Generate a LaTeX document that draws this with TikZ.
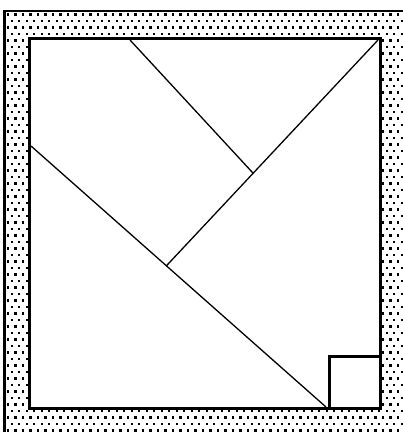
\documentclass[tikz,border=0pt]{standalone}
\usetikzlibrary{calc}

\begin{document}
\begin{tikzpicture}[x=1pt,y=-1pt,
  rim/.style={line width=3pt,line cap=rect},
  cut/.style={line width=1.3pt}]
\useasboundingbox (0,0) rectangle (403,432);
% stippled frame
\begin{scope}[even odd rule]
\clip (4,11) rectangle (403,432) (29.5,38.5) rectangle (380.5,408.5);
\foreach \r in {0,...,64}{
  \pgfmathsetmacro{\yy}{14.5+6.5*\r}
  \pgfmathsetmacro{\sh}{mod(\r,2)*3.75}
  \foreach \c in {0,...,53}{
    \fill ({8+7.5*\c+\sh-1.2},{\yy-1.2}) rectangle ++(2.4,2.4);
  }
}
\end{scope}
\draw[line width=2.5pt] (4.5,432) -- (4.5,11) -- (403,11);
% inner square
\coordinate (tl) at (29.5,38.5);
\coordinate (tr) at (380.5,38.5);
\coordinate (br) at (380.5,408.5);
\coordinate (bl) at (29.5,408.5);
\draw[rim] (tl) rectangle (br);
% small square in the corner
\coordinate (sq) at (329.5,356.5);
\draw[rim] (sq) rectangle (br);
% cut lines
\coordinate (a0) at (31,146);
\coordinate (a1) at (326,407);
\coordinate (b0) at (378,40);
\coordinate (b1) at ($(a0)!0.459!(a1)$);
\coordinate (c0) at (130,40);
\coordinate (c1) at ($(b0)!0.59!(b1)$);
\draw[cut] (a0) -- (a1);
\draw[cut] (b0) -- (b1);
\draw[cut] (c0) -- (c1);
\end{tikzpicture}
\end{document}
